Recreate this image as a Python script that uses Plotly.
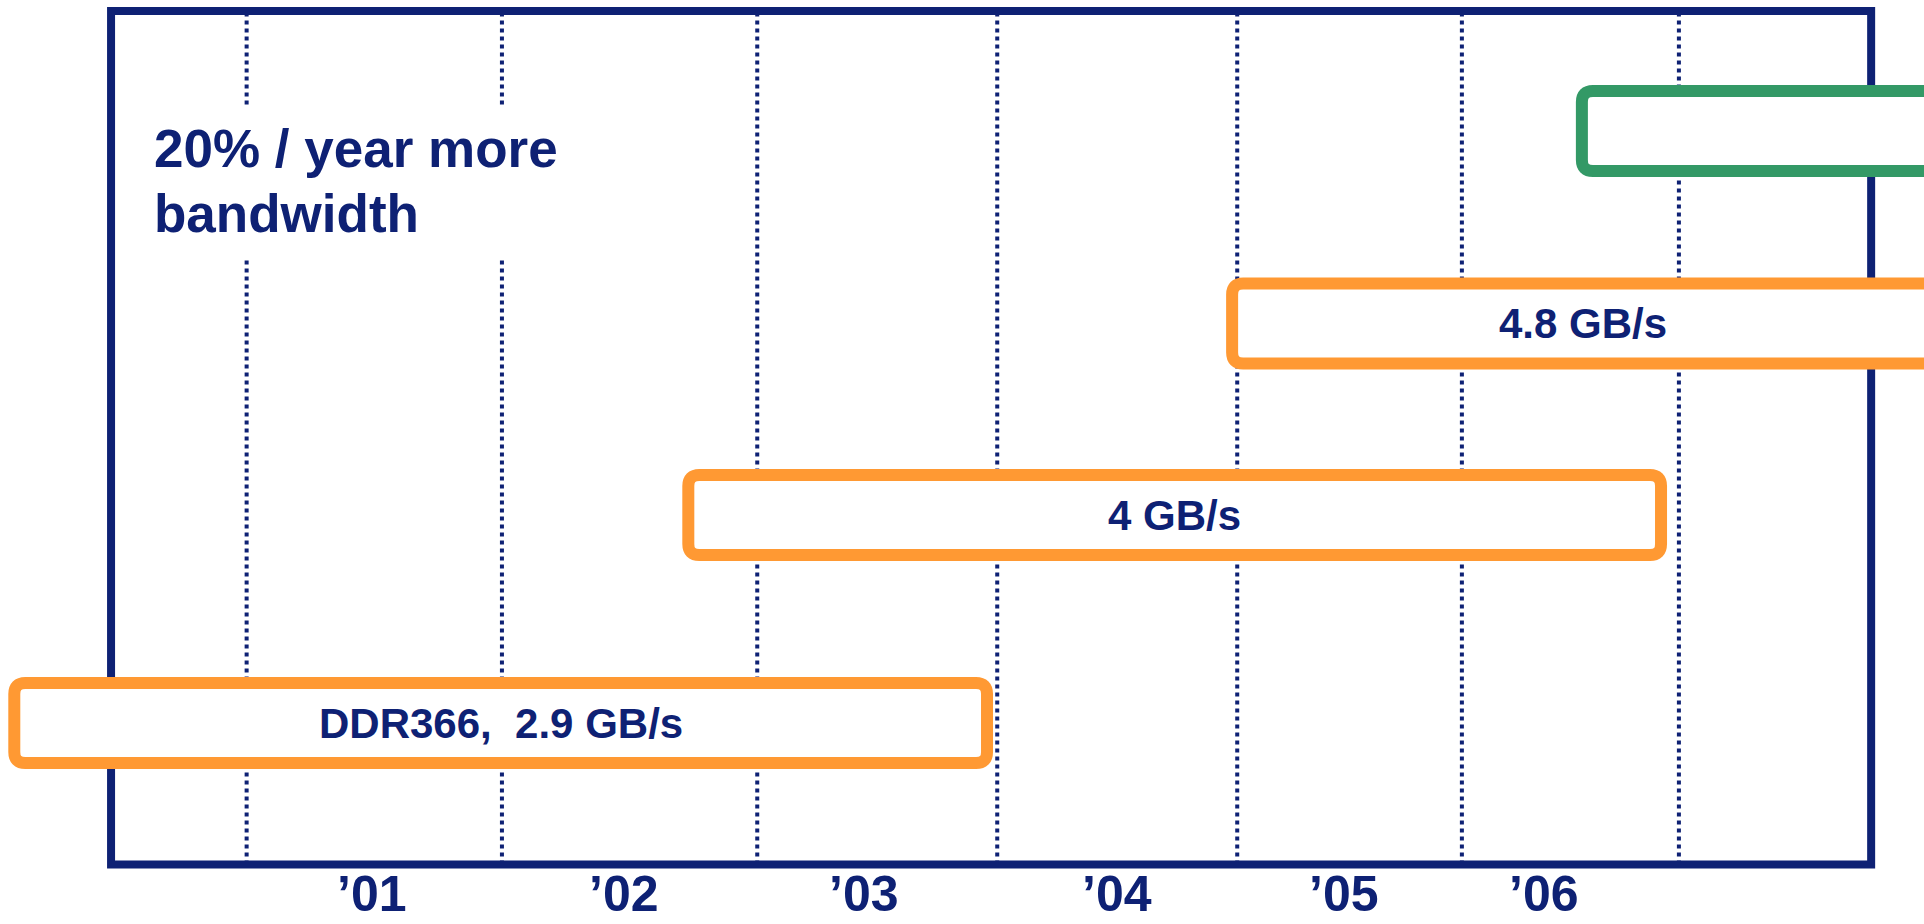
import plotly.graph_objects as go

NAVY = "#0E2174"
ORANGE = "#FF9933"
GREEN = "#339966"
FONT = "Liberation Sans, Arial, sans-serif"

# ---- data (x in years, y in timeline rows) ----
year_labels = ["\u201901", "\u201902", "\u201903", "\u201904", "\u201905", "\u201906"]
year_label_pos = [2000.99, 2001.98, 2002.92, 2003.91, 2004.80, 2005.58]
year_boundaries = [2000.5, 2001.5, 2002.5, 2003.44, 2004.38, 2005.26, 2006.11]

box_labels = ["DDR366,\u00a0 2.9 GB/s", "4 GB/s", "4.8 GB/s", ""]
box_start = [1999.59, 2002.23, 2004.36, 2005.73]
box_end = [2003.40, 2006.04, 2007.11, 2007.60]
box_row = [0.0, 1.083, 2.081, 3.083]
box_colors = [ORANGE, ORANGE, ORANGE, GREEN]

heading_lines = ["20% / year more", "bandwidth"]
heading_y = [2.990, 2.656]
heading_x = 2000.128

# ---- axis setup ----
X_RANGE = [1999.534, 2007.070]
Y_RANGE = [-0.7656, 3.7656]
FRAME = dict(x0=1999.969, x1=2006.863, y0=-0.737, y1=3.708)

W, H, MB = 1924, 924, 54
px_per_x = W / (X_RANGE[1] - X_RANGE[0])
px_per_y = (H - MB) / (Y_RANGE[1] - Y_RANGE[0])

BOX_HALF_H = 40 / px_per_y
R_PX = 11
rx, ry = R_PX / px_per_x, R_PX / px_per_y
YEAR_LABEL_Y = -24 / (H - MB)   # paper units below plot area

def rounded_path(x0, x1, y0, y1):
    return (f"M {x0+rx},{y1} L {x1-rx},{y1} Q {x1},{y1} {x1},{y1-ry} "
            f"L {x1},{y0+ry} Q {x1},{y0} {x1-rx},{y0} "
            f"L {x0+rx},{y0} Q {x0},{y0} {x0},{y0+ry} "
            f"L {x0},{y1-ry} Q {x0},{y1} {x0+rx},{y1} Z")

fig = go.Figure()
# invisible trace to establish axes
fig.add_trace(go.Scatter(x=[X_RANGE[0]], y=[Y_RANGE[0]], mode="markers",
                         marker=dict(opacity=0), hoverinfo="skip", showlegend=False))

shapes = []
# dotted year boundaries
for xb in year_boundaries:
    shapes.append(dict(type="line", xref="x", yref="y", x0=xb, x1=xb,
                       y0=FRAME["y0"], y1=FRAME["y1"], layer="below",
                       line=dict(color=NAVY, width=4, dash="4px,4px")))
# white backing for heading text
shapes.append(dict(type="rect", xref="x", yref="y", x0=2000.043, x1=2001.885,
                   y0=2.422, y1=3.208, layer="below",
                   fillcolor="white", line=dict(width=0)))
# frame
shapes.append(dict(type="rect", xref="x", yref="y", layer="below",
                   line=dict(color=NAVY, width=8), fillcolor="rgba(0,0,0,0)", **FRAME))
# rounded boxes
for s, e, r, c in zip(box_start, box_end, box_row, box_colors):
    shapes.append(dict(type="path", xref="x", yref="y", layer="below",
                       path=rounded_path(s, e, r - BOX_HALF_H, r + BOX_HALF_H),
                       fillcolor="white", line=dict(color=c, width=12)))

annotations = []
for s, e, r, t in zip(box_start, box_end, box_row, box_labels):
    if t:
        annotations.append(dict(x=(s + e) / 2, y=r, xref="x", yref="y", text=t,
                                showarrow=False, xanchor="center", yanchor="middle",
                                font=dict(family=FONT, size=42, color=NAVY, weight="bold")))
for t, yy in zip(heading_lines, heading_y):
    annotations.append(dict(x=heading_x, y=yy, xref="x", yref="y", text=t,
                            showarrow=False, xanchor="left", yanchor="middle",
                            font=dict(family=FONT, size=53, color=NAVY, weight="bold")))
for t, xp in zip(year_labels, year_label_pos):
    annotations.append(dict(x=xp, y=YEAR_LABEL_Y, xref="x", yref="paper", text=t,
                            showarrow=False, xanchor="center", yanchor="middle",
                            font=dict(family=FONT, size=50, color=NAVY, weight="bold")))

fig.update_layout(
    width=W, height=H,
    margin=dict(l=0, r=0, t=0, b=MB, pad=0, autoexpand=False),
    paper_bgcolor="white", plot_bgcolor="white",
    showlegend=False,
    shapes=shapes, annotations=annotations,
    xaxis=dict(range=X_RANGE, showgrid=False, zeroline=False, showline=False,
               automargin=False, showticklabels=False, ticks="", fixedrange=True),
    yaxis=dict(range=Y_RANGE, visible=False, automargin=False, fixedrange=True),
)

fig.write_html("out.html", config={"displayModeBar": False})
